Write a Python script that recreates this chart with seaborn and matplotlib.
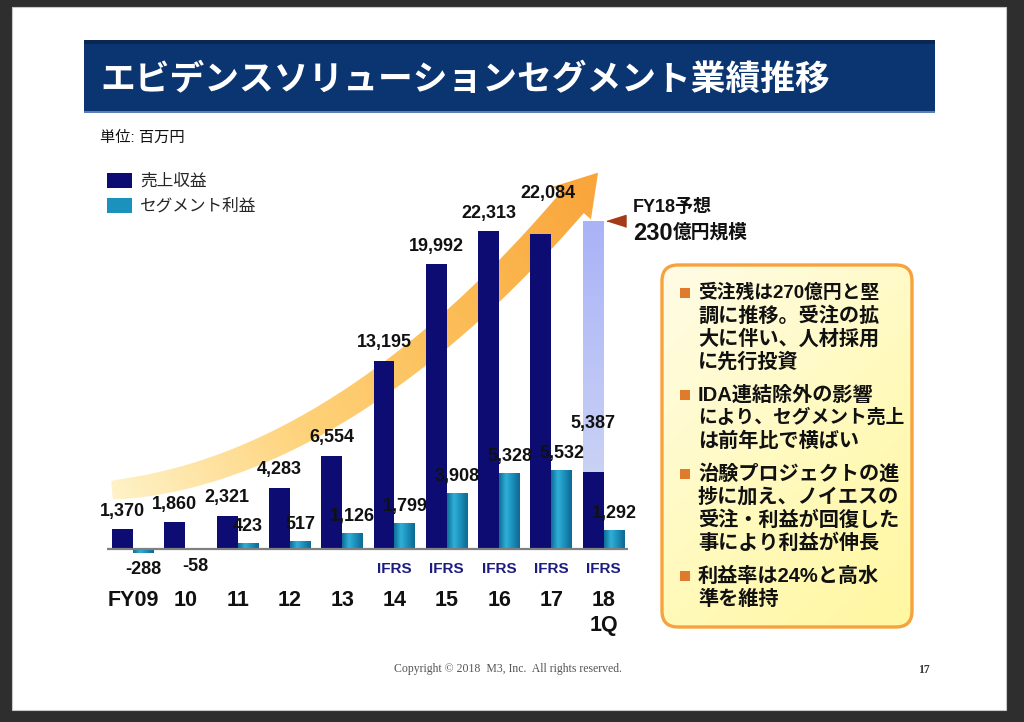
import numpy as np
import pandas as pd
import matplotlib
matplotlib.use("Agg")
import matplotlib.pyplot as plt
import seaborn as sns
from matplotlib.colors import LinearSegmentedColormap
from matplotlib.patches import Rectangle, FancyBboxPatch, Polygon
from matplotlib.font_manager import FontProperties

# ---- data (百万円) ----
years = ["FY09", "10", "11", "12", "13", "14", "15", "16", "17", "18\n1Q"]
revenue = [1370, 1860, 2321, 4283, 6554, 13195, 19992, 22313, 22084, 5387]
profit = [-288, -58, 423, 517, 1126, 1799, 3908, 5328, 5532, 1292]
ifrs = [False, False, False, False, False, True, True, True, True, True]
forecast_fy18 = 23000
series_names = ["売上収益", "セグメント利益"]

title = "エビデンスソリューションセグメント業績推移"
unit_label = "単位: 百万円"
forecast_label = "FY18予想"
forecast_amount = "230"
forecast_unit = "億円規模"
bullets = [
    ["受注残は270億円と堅", "調に推移。受注の拡", "大に伴い、人材採用", "に先行投資"],
    ["IDA連結除外の影響", "により、セグメント売上", "は前年比で横ばい"],
    ["治験プロジェクトの進", "捗に加え、ノイエスの", "受注・利益が回復した", "事により利益が伸長"],
    ["利益率は24%と高水", "準を維持"],
]
copyright_text = "Copyright © 2018  M3, Inc.  All rights reserved."
page_no = "17"

NAVY = "#0c0c72"
TEAL = "#1b92be"
W, H = 1024, 722

sns.set_theme(style="white")
plt.rcParams["font.family"] = ["Liberation Sans", "Noto Sans CJK JP", "DejaVu Sans"]
JP = ["Noto Sans CJK JP", "DejaVu Sans"]

fig = plt.figure(figsize=(W / 100, H / 100), dpi=100)
fig.patch.set_facecolor("#2e2e2e")

# background layer in pixel coordinates
bg = fig.add_axes([0, 0, 1, 1], zorder=0)
bg.set_xlim(0, W)
bg.set_ylim(H, 0)
bg.axis("off")

bg.add_patch(Rectangle((12, 7), 994, 703, facecolor="white", edgecolor="#c8c8c8", lw=0.8))

# title bar
bg.add_patch(Rectangle((84, 40), 851, 73, facecolor="#0b3570", edgecolor="none"))
bg.add_patch(Rectangle((84, 40), 851, 4, facecolor="#0a2754", edgecolor="none"))
bg.add_patch(Rectangle((84, 111), 851, 2, facecolor="#5b7fb5", edgecolor="none"))
bg.text(100, 79, title, color="white", fontsize=25, fontweight="bold",
        va="center", ha="left", family=JP)
bg.text(100, 138, unit_label, fontsize=11, va="center", color="#111111")


# big curved arrow behind the bars
def bezier(p, t):
    t = t[:, None]
    return ((1 - t) ** 3) * p[0] + 3 * ((1 - t) ** 2) * t * p[1] \
        + 3 * (1 - t) * t ** 2 * p[2] + t ** 3 * p[3]


def bezier_d(p, t):
    t = t[:, None]
    return 3 * (1 - t) ** 2 * (p[1] - p[0]) + 6 * (1 - t) * t * (p[2] - p[1]) \
        + 3 * t ** 2 * (p[3] - p[2])


ctrl = np.array([[112, 490], [260, 478], [420, 380], [572, 203]], float)
ts = np.linspace(0, 1, 80)
c = bezier(ctrl, ts)
d = bezier_d(ctrl, ts)
d /= np.linalg.norm(d, axis=1)[:, None]
nrm = np.column_stack([-d[:, 1], d[:, 0]])
hw = (9 + 6.5 * np.sqrt(ts))[:, None]
side_a = c + nrm * hw
side_b = c - nrm * hw
tip = c[-1] + d[-1] * 40
head_a = c[-1] + nrm[-1] * 25
head_b = c[-1] - nrm[-1] * 25
verts = np.vstack([side_a, head_a, tip, head_b, side_b[::-1]])
arrow = Polygon(verts, closed=True, facecolor="none", edgecolor="none")
bg.add_patch(arrow)
gx, gy = np.meshgrid(np.linspace(100, 620, 300), np.linspace(150, 520, 200))
tt = ((gx - 112) * 488 - (gy - 490) * 321) / (488 ** 2 + 321 ** 2)
arrow_cmap = LinearSegmentedColormap.from_list(
    "arrow", ["#fff2c6", "#fed27a", "#fcbc55", "#f9a43a"])
img = bg.imshow(arrow_cmap(np.clip(tt, 0, 1)), extent=(100, 620, 520, 150),
                origin="upper", interpolation="bilinear", aspect="auto", zorder=1)
img.set_clip_path(arrow)

# comment box
box = FancyBboxPatch((662, 265), 250, 362, boxstyle="round,pad=0,rounding_size=16",
                     facecolor="none", edgecolor="#f7a23c", lw=2.4, zorder=3)
bg.add_patch(box)
bx, by = np.meshgrid(np.linspace(662, 912, 100), np.linspace(265, 627, 150))
bt = 0.4 * (bx - 662) / 250 + 0.6 * (by - 265) / 362
box_cmap = LinearSegmentedColormap.from_list("box", ["#fffce6", "#fffac0", "#fff7a0"])
bimg = bg.imshow(box_cmap(bt), extent=(662, 912, 627, 265), origin="upper",
                 aspect="auto", zorder=2)
bimg.set_clip_path(box)

y = 293
for lines in bullets:
    bg.add_patch(Rectangle((680, y - 5), 10, 10, facecolor="#e07b2e", edgecolor="none", zorder=4))
    for k, line in enumerate(lines):
        fs = 13.5 if len(line) > 10 else 14.5
        bg.text(698, y + k * 23, line, fontsize=fs, fontweight="bold",
                va="center", ha="left", color="#111111", zorder=4)
    y += len(lines) * 23 + 10

# forecast note
bg.text(633, 207, forecast_label, fontsize=13, fontweight="bold", va="center", color="#111111")
bg.text(633, 240, forecast_amount, fontsize=17, fontweight="bold", va="baseline", color="#111111")
bg.text(673, 238, forecast_unit, fontsize=13.5, fontweight="bold", va="baseline", color="#111111")

# footer
bg.text(508, 669, copyright_text, family=["Liberation Serif"], fontsize=8.5,
        color="#555555", ha="center", va="center")
bg.text(924, 670, page_no, family=["Liberation Serif"], fontsize=8.5,
        fontweight="bold", color="#333333", ha="center", va="center")
bg.set_xlim(0, W)
bg.set_ylim(H, 0)

# ---- bar chart ----
ax = fig.add_axes([107 / W, 1 - 563 / H, 521 / W, 370 / H], zorder=2)
ax.set_facecolor("none")

df = pd.DataFrame({
    "year": years * 2,
    "value": revenue + profit,
    "series": [series_names[0]] * len(years) + [series_names[1]] * len(years),
})
sns.barplot(data=df, x="year", y="value", hue="series", order=years,
            hue_order=series_names, palette=[NAVY, TEAL], saturation=1,
            width=0.8, linewidth=0, ax=ax, zorder=2)

# shaded teal for the profit bars
teal_cmap = LinearSegmentedColormap.from_list("teal", ["#0f6f98", "#2fb0d8", "#1a8cb8", "#0e6a92"])
teal_row = teal_cmap(np.linspace(0, 1, 40))[None, :, :]
for bar in ax.containers[1]:
    x0, w = bar.get_x(), bar.get_width()
    y0, h = bar.get_y(), bar.get_height()
    timg = ax.imshow(teal_row, extent=(x0, x0 + w, min(y0, y0 + h), max(y0, y0 + h)),
                     origin="upper", aspect="auto", interpolation="bilinear", zorder=2.1)
    timg.set_clip_path(bar)

# FY18 full-year forecast bar (light gradient behind the 1Q bar)
last = len(years) - 1
fbar = ax.bar([last - 0.2], [forecast_fy18], width=0.4, color="none", zorder=1)[0]
grad = LinearSegmentedColormap.from_list("fc", ["#a9b3f7", "#d3dbf4"])(np.linspace(0, 1, 100))
fimg = ax.imshow(grad[:, None, :], extent=(last - 0.4, last, 0, forecast_fy18),
                 origin="upper", aspect="auto", zorder=1)
fimg.set_clip_path(fbar)

ax.set_xlim(-0.497, 9.465)
ax.set_ylim(-1000, 25000)
sns.despine(ax=ax, left=True, bottom=True)
ax.set_yticks([])
ax.set_ylabel("")
ax.set_xlabel("")
ax.axhline(0, color="#808080", lw=1.6, zorder=3)

ax.set_xticks(range(len(years)))
ax.set_xticklabels(years, fontsize=15.5, fontweight="bold", linespacing=1.24)
ax.tick_params(axis="x", length=0, pad=19.5, labelcolor="#111111")

# value labels
rev_offsets = {8: (5, 29.5), 9: (0, 35)}
for i, v in enumerate(revenue):
    dx, dy = rev_offsets.get(i, (0, 13))
    ax.annotate(f"{v:,}", (i - 0.2, v), xytext=(dx, dy), textcoords="offset points",
                ha="center", va="center", fontsize=13, fontweight="bold",
                color="#111111", zorder=5)
for i, v in enumerate(profit):
    dy = 12 if v >= 0 else -12
    ax.annotate(f"{v:,}", (i + 0.2, v), xytext=(0, dy), textcoords="offset points",
                ha="center", va="center", fontsize=13, fontweight="bold",
                color="#111111", zorder=5)
for i, flag in enumerate(ifrs):
    if flag:
        ax.annotate("IFRS", (i, 0), xytext=(0, -14.5), textcoords="offset points",
                    ha="center", va="center", fontsize=11, fontweight="bold",
                    color="#1c1c80")

ax.plot([last + 0.245], [forecast_fy18], marker=[(-1, 0), (1, 0.63), (1, -0.63)],
        markersize=13.7, color="#a33a18", linestyle="none", clip_on=False, zorder=5)

sns.move_legend(ax, "upper left", bbox_to_anchor=(107 / W, 1 - 173 / H),
                bbox_transform=fig.transFigure, title=None, frameon=False,
                prop=FontProperties(family=JP, size=12), handlelength=1.5,
                handleheight=1.0, handletextpad=0.5, labelspacing=0.45,
                borderpad=0, borderaxespad=0)

fig.savefig("out.png", dpi=100, facecolor=fig.get_facecolor())
